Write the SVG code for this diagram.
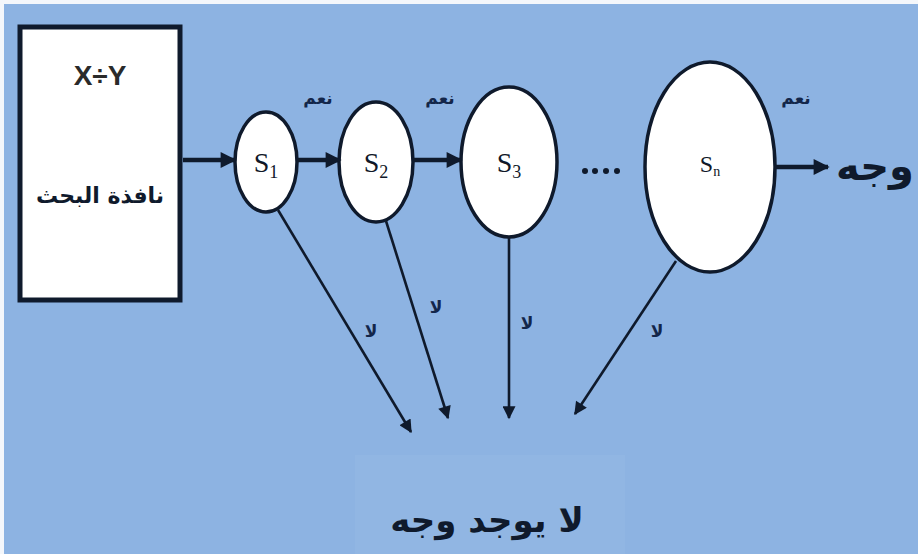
<svg xmlns="http://www.w3.org/2000/svg" width="918" height="554" viewBox="0 0 918 554">
<style>
.node{fill:#ffffff;stroke:#0f1a2c;stroke-width:3.5}
.lbl{font-family:"Liberation Serif","DejaVu Serif",serif;fill:#101828}
.ar{font-family:"DejaVu Sans","Noto Sans",sans-serif;font-weight:bold;fill:#0f1a2c}
.small{font-family:"DejaVu Sans","Noto Sans",sans-serif;font-weight:bold;fill:#13264a;font-size:17px}
.thick{stroke:#0f1a2c;stroke-width:4.5;fill:none}
.thin{stroke:#0f1a2c;stroke-width:2.6;fill:none}
</style>
<defs>
<marker id="ah" viewBox="0 0 10 10" refX="9" refY="5" markerUnits="userSpaceOnUse" markerWidth="18" markerHeight="16" orient="auto">
<path d="M0,0 L10,5 L0,10 z" fill="#0f1a2c"/>
</marker>
<marker id="ah2" viewBox="0 0 10 10" refX="9" refY="5" markerUnits="userSpaceOnUse" markerWidth="17" markerHeight="13" orient="auto">
<path d="M0,0 L10,5 L0,10 z" fill="#0f1a2c"/>
</marker>
</defs>
<rect x="0" y="0" width="918" height="554" fill="#f4f7fb"/>
<rect x="4" y="4" width="914" height="550" fill="#8db3e2"/>
<rect x="355" y="455" width="270" height="99" fill="#91b6e3"/>

<g id="box">
<rect x="20" y="27" width="160" height="273" fill="#ffffff" stroke="#0f1a2c" stroke-width="5"/>
<text x="100" y="85" text-anchor="middle" font-family="Liberation Sans, Arial, sans-serif" font-weight="bold" font-size="28" fill="#2a2a2a">X÷Y</text>
<text x="100" y="203" text-anchor="middle" class="ar" font-size="22" fill="#222" direction="rtl">نافذة البحث</text>
</g>

<g id="S1"><ellipse class="node" cx="266" cy="162" rx="31" ry="50"/><text class="lbl" x="266" y="172" text-anchor="middle" font-size="28">S<tspan font-size="18" dy="6">1</tspan></text></g>
<g id="S2"><ellipse class="node" cx="376" cy="162" rx="37" ry="60"/><text class="lbl" x="376" y="172" text-anchor="middle" font-size="28">S<tspan font-size="18" dy="6">2</tspan></text></g>
<g id="S3"><ellipse class="node" cx="509" cy="162" rx="48" ry="75"/><text class="lbl" x="509" y="172" text-anchor="middle" font-size="28">S<tspan font-size="18" dy="6">3</tspan></text></g>
<g id="Sn"><ellipse class="node" cx="710" cy="167" rx="65" ry="105"/><text class="lbl" x="710" y="172" text-anchor="middle" font-size="24">S<tspan font-size="14" dy="4">n</tspan></text></g>

<g id="dots" fill="#0f1a2c">
<circle cx="585" cy="171" r="3"/><circle cx="595" cy="171" r="3"/><circle cx="606" cy="171" r="3"/><circle cx="617" cy="171" r="3"/>
</g>

<g id="connectors">
<line class="thick" x1="183" y1="160" x2="235" y2="160" marker-end="url(#ah)"/>
<line class="thick" x1="297" y1="160" x2="340" y2="160" marker-end="url(#ah)"/>
<line class="thick" x1="413" y1="160" x2="461" y2="160" marker-end="url(#ah)"/>
<line class="thick" x1="775" y1="167" x2="828" y2="167" marker-end="url(#ah)"/>
<line class="thin" x1="278" y1="210" x2="411" y2="432" marker-end="url(#ah2)"/>
<line class="thin" x1="386" y1="221" x2="448" y2="418" marker-end="url(#ah2)"/>
<line class="thin" x1="509" y1="237" x2="509" y2="418" marker-end="url(#ah2)"/>
<line class="thin" x1="676" y1="261" x2="575" y2="414" marker-end="url(#ah2)"/>
</g>

<g id="labels">
<text class="small" x="318" y="104" text-anchor="middle" direction="rtl">نعم</text>
<text class="small" x="440" y="104" text-anchor="middle" direction="rtl">نعم</text>
<text class="small" x="796" y="104" text-anchor="middle" direction="rtl">نعم</text>
<text class="small" x="371" y="337" text-anchor="middle" direction="rtl" font-size="20">لا</text>
<text class="small" x="436" y="313" text-anchor="middle" direction="rtl" font-size="20">لا</text>
<text class="small" x="527" y="329" text-anchor="middle" direction="rtl" font-size="20">لا</text>
<text class="small" x="657" y="337" text-anchor="middle" direction="rtl" font-size="20">لا</text>
</g>

<g id="face">
<text class="ar" x="875" y="180" text-anchor="middle" font-size="40" direction="rtl">وجه</text>
</g>
<g id="noface">
<text class="ar" x="487" y="532" text-anchor="middle" font-size="34" direction="rtl">لا يوجد وجه</text>
</g>
</svg>
